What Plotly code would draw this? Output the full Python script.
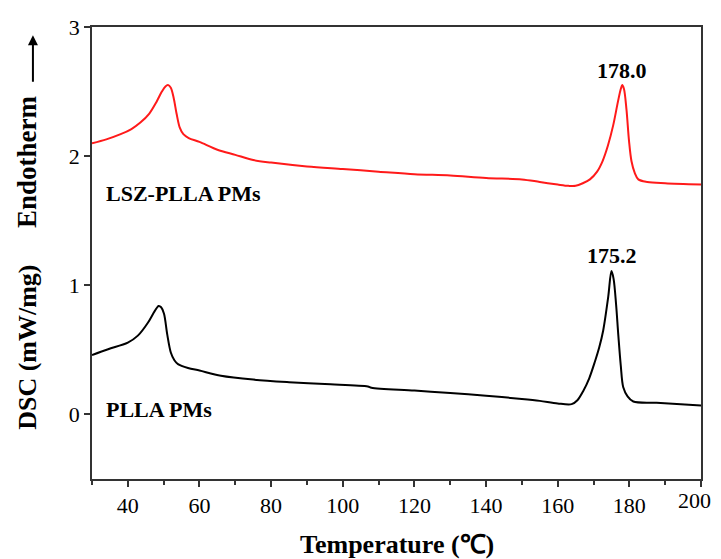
import plotly.graph_objects as go

# DSC curves
lsz_temp = [30, 34, 38, 41, 43.5, 46, 48, 49.5, 50.5, 51.2, 52, 52.8, 53.6, 54.5, 55.5,
            57, 60, 65, 70, 75, 80, 90, 100, 110, 120, 130, 140, 150, 155, 160, 163,
            165, 167, 169, 171, 172.5, 174, 175.5, 176.8, 177.6, 178, 178.5, 179.2,
            179.9, 180.6, 181.5, 182.5, 185, 190, 200]
lsz_dsc = [2.10, 2.13, 2.17, 2.21, 2.26, 2.33, 2.42, 2.50, 2.54, 2.55, 2.53, 2.45, 2.33,
           2.22, 2.17, 2.14, 2.11, 2.05, 2.01, 1.97, 1.95, 1.92, 1.90, 1.88, 1.86, 1.85,
           1.83, 1.82, 1.80, 1.78, 1.77, 1.77, 1.79, 1.82, 1.88, 1.96, 2.08, 2.24, 2.42,
           2.52, 2.55, 2.52, 2.36, 2.12, 1.96, 1.87, 1.82, 1.80, 1.79, 1.78]

plla_temp = [30, 34.5, 40, 42.8, 45.6, 47.5, 48.6, 49.3, 50.1, 51, 52, 53, 54, 56.8, 60,
             66, 75, 85, 95, 107, 108, 120, 130, 140, 150, 155, 160, 163.9, 165.5, 167.1,
             168.8, 170.4, 171.6, 172.7, 174.1, 175.0, 175.6, 176.3, 176.9, 177.6, 178.3,
             179.5, 181.1, 187.6, 200]
plla_dsc = [0.46, 0.505, 0.556, 0.61, 0.71, 0.80, 0.84, 0.83, 0.78, 0.62, 0.48, 0.42,
            0.39, 0.36, 0.34, 0.30, 0.27, 0.25, 0.235, 0.217, 0.207, 0.185, 0.165, 0.145,
            0.12, 0.105, 0.085, 0.08, 0.11, 0.18, 0.28, 0.41, 0.52, 0.65, 0.91, 1.11,
            1.05, 0.85, 0.62, 0.38, 0.21, 0.14, 0.10, 0.09, 0.07]

x_ticks = [40, 60, 80, 100, 120, 140, 160, 180, 200]
x_labels = ['40', '60', '80', '100', '120', '140', '160', '180', '']
y_ticks = [0, 1, 2, 3]

FONT = 'Liberation Serif, Times New Roman, serif'
AXIS_COLOR = '#333333'

fig = go.Figure()
fig.add_trace(go.Scatter(x=lsz_temp, y=lsz_dsc, mode='lines',
                         line=dict(color='#ff1a1a', width=2, shape='spline', smoothing=0.9)))
fig.add_trace(go.Scatter(x=plla_temp, y=plla_dsc, mode='lines',
                         line=dict(color='black', width=2, shape='spline', smoothing=0.9)))

# the page body adds an 8px offset, so the figure is 8px smaller
fig.update_layout(
    width=713, height=551,
    margin=dict(l=84, r=20, t=19, b=80),
    paper_bgcolor='white', plot_bgcolor='white',
    showlegend=False,
    font=dict(family=FONT, size=22, color='black'),
    xaxis=dict(range=[30, 200], tickvals=x_ticks, ticktext=x_labels, ticks='outside',
               ticklen=6, tickwidth=1.5, tickcolor=AXIS_COLOR, showline=True,
               linecolor=AXIS_COLOR, linewidth=1.5, mirror=True, showgrid=False,
               zeroline=False, automargin=False,
               minor=dict(ticks='outside', dtick=10, tick0=30, ticklen=4,
                          tickcolor=AXIS_COLOR, tickwidth=1.5)),
    yaxis=dict(range=[-0.5, 3], tickvals=y_ticks, ticks='outside', ticklen=6,
               tickwidth=1.5, tickcolor=AXIS_COLOR, showline=True, linecolor=AXIS_COLOR,
               linewidth=1.5, mirror=True, showgrid=False, zeroline=False,
               automargin=False),
)

# last x label kept inside the visible page edge
fig.add_annotation(text='200', x=200, xref='x', y=-0.5, yref='y', xanchor='right',
                   yanchor='top', xshift=12, yshift=-7, showarrow=False,
                   font=dict(size=22))

# axis titles placed like the original (two separate rotated labels + arrow)
fig.add_annotation(text='<b>Temperature (℃)</b>', xref='paper', yref='paper',
                   x=0.5, y=-0.146, showarrow=False, font=dict(size=26),
                   xanchor='center', yanchor='middle')
fig.add_annotation(text='<b>DSC (mW/mg)</b>', xref='paper', yref='paper',
                   x=-0.107, y=0.292, textangle=-90, showarrow=False,
                   font=dict(size=26), xanchor='center', yanchor='middle')
fig.add_annotation(text='<b>Endotherm</b>', xref='paper', yref='paper',
                   x=-0.107, y=0.703, textangle=-90, showarrow=False,
                   font=dict(size=27), xanchor='center', yanchor='middle')
fig.add_annotation(text='', xref='paper', yref='paper', x=-0.097, y=0.982,
                   ax=0, ay=48, showarrow=True, arrowhead=2, arrowsize=1,
                   arrowwidth=2, arrowcolor='black')

# curve labels
fig.add_annotation(text='<b>LSZ-PLLA PMs</b>', x=33.4, y=1.71, xanchor='left',
                   showarrow=False, font=dict(size=22))
fig.add_annotation(text='<b>PLLA PMs</b>', x=33.4, y=0.04, xanchor='left',
                   showarrow=False, font=dict(size=22))
fig.add_annotation(text='<b>178.0</b>', x=178.0, y=2.66, showarrow=False,
                   font=dict(size=22))
fig.add_annotation(text='<b>175.2</b>', x=175.2, y=1.23, showarrow=False,
                   font=dict(size=22))

fig.write_html('out.html')
